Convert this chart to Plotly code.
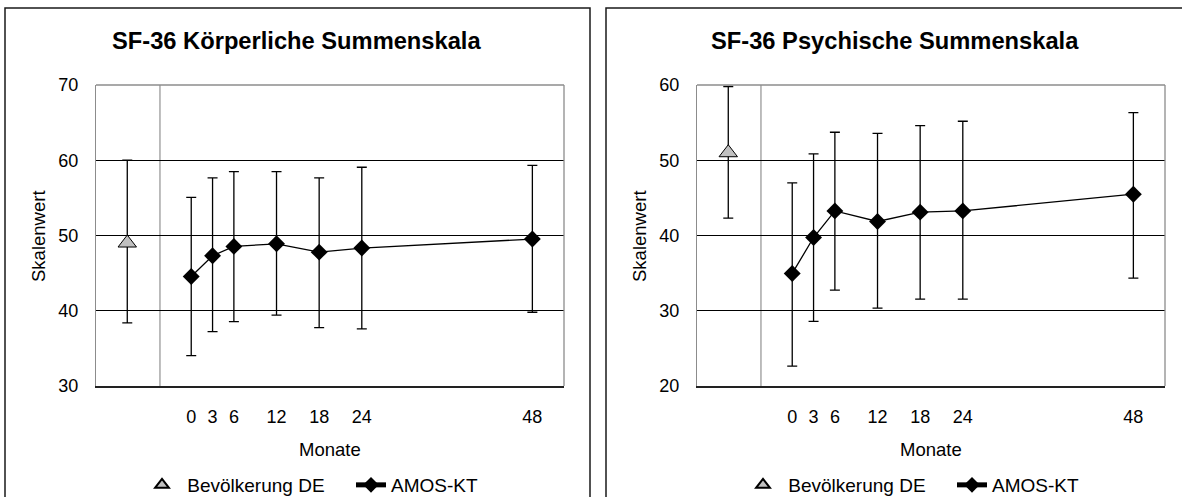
import plotly.graph_objects as go

# ---------------- data ----------------
months = [0, 3, 6, 12, 18, 24, 48]
tick_labels = ["0", "3", "6", "12", "18", "24", "48"]
pop_x = [-9]            # position of the population reference point (left of divider)
divider_x = -4.4        # grey divider between reference and study time points

# SF-36 Körperliche Summenskala
phys_pop_mean = [49.0]
phys_pop_upper = [60.0]
phys_pop_lower = [38.4]
phys_amos_mean = [44.55, 47.31, 48.55, 48.90, 47.79, 48.33, 49.53]
phys_amos_upper = [55.07, 57.65, 58.49, 58.49, 57.65, 59.07, 59.33]
phys_amos_lower = [34.03, 37.23, 38.56, 39.41, 37.76, 37.59, 39.80]

# SF-36 Psychische Summenskala
psy_pop_mean = [51.0]
psy_pop_upper = [59.8]
psy_pop_lower = [42.3]
psy_amos_mean = [34.96, 39.73, 43.27, 41.86, 43.10, 43.27, 45.49]
psy_amos_upper = [46.99, 50.84, 53.72, 53.58, 54.60, 55.18, 56.33]
psy_amos_lower = [22.65, 28.58, 32.74, 30.35, 31.55, 31.55, 34.34]

titles = ["SF-36 Körperliche Summenskala", "SF-36 Psychische Summenskala"]
y_ranges = [[30, 70], [20, 60]]
pop_name = " Bevölkerung DE"
amos_name = "AMOS-KT"
x_title = "Monate"
y_title = "Skalenwert"

# ---------------- layout helpers ----------------
W, H = 1182, 497
FONT = "Liberation Sans, Arial, sans-serif"


def px(x):
    return x / W


def py(y):
    return 1 - y / H


def err(mean, upper, lower):
    plus = [u - m for u, m in zip(upper, mean)]
    minus = [m - l for m, l in zip(mean, lower)]
    return plus, minus


fig = go.Figure()

panels = [
    (phys_pop_mean, phys_pop_upper, phys_pop_lower,
     phys_amos_mean, phys_amos_upper, phys_amos_lower),
    (psy_pop_mean, psy_pop_upper, psy_pop_lower,
     psy_amos_mean, psy_amos_upper, psy_amos_lower),
]

offset = 601  # horizontal pixel offset of the second panel
for i, (pm, pu, pl, am, au, al) in enumerate(panels):
    xa = "x" if i == 0 else "x2"
    ya = "y" if i == 0 else "y2"
    lg = "legend" if i == 0 else "legend2"
    pplus, pminus = err(pm, pu, pl)
    aplus, aminus = err(am, au, al)
    fig.add_trace(go.Scatter(
        x=pop_x, y=pm, mode="markers", name=pop_name,
        xaxis=xa, yaxis=ya, legend=lg,
        marker=dict(symbol="triangle-up", size=16, color="#c0c0c0",
                    line=dict(color="#000000", width=1)),
        error_y=dict(type="data", array=pplus, arrayminus=pminus,
                     color="#000000", thickness=1.3, width=5),
    ))
    fig.add_trace(go.Scatter(
        x=months, y=am, mode="lines+markers", name=amos_name,
        xaxis=xa, yaxis=ya, legend=lg,
        line=dict(color="#000000", width=1.3),
        marker=dict(symbol="diamond", size=13, color="#000000"),
        error_y=dict(type="data", array=aplus, arrayminus=aminus,
                     color="#000000", thickness=1.3, width=5),
    ))

xdomains = [[px(96), px(564)], [px(96 + offset), px(564 + offset)]]
ydomain = [py(386), py(85)]

layout = dict(
    width=W, height=H,
    margin=dict(l=0, r=0, t=0, b=0, pad=0, autoexpand=False),
    paper_bgcolor="white", plot_bgcolor="white",
    font=dict(family=FONT, size=18, color="#000000"),
    showlegend=True,
)

for i in range(2):
    sx = "" if i == 0 else "2"
    layout["xaxis" + sx] = dict(
        domain=xdomains[i], range=[-13.4, 52.45],
        tickvals=months, ticktext=tick_labels,
        showgrid=False, zeroline=False,
        showline=True, linecolor="#222222", linewidth=2,
        ticks="", ticklabelstandoff=13,
        tickfont=dict(size=18), anchor="y" + sx,
    )
    layout["yaxis" + sx] = dict(
        domain=ydomain, range=y_ranges[i], dtick=10, tick0=0,
        showgrid=True, gridcolor="#000000", gridwidth=1,
        zeroline=False, showline=True, linecolor="#8c8c8c", linewidth=1,
        ticks="", ticklabelstandoff=13,
        tickfont=dict(size=18), anchor="x" + sx,
    )
    layout["legend" if i == 0 else "legend2"] = dict(
        orientation="h", x=px(142 + i * offset), xanchor="left",
        y=py(485), yanchor="middle",
        font=dict(size=19), bgcolor="rgba(0,0,0,0)",
        entrywidth=164, entrywidthmode="pixels", itemsizing="constant",
        itemclick=False, itemdoubleclick=False,
    )

fig.update_layout(**layout)

shapes = []
annotations = []
for i in range(2):
    sx = "" if i == 0 else "2"
    xr, yr = "x" + sx, "y" + sx
    # outer chart-area box
    x0 = 5 if i == 0 else 606
    x1 = 590 if i == 0 else 1184
    shapes.append(dict(type="rect", xref="paper", yref="paper",
                       x0=px(x0), x1=px(x1), y0=-0.05, y1=py(8),
                       line=dict(color="#1a1a1a", width=1.5), layer="below"))
    # grey divider line
    shapes.append(dict(type="line", xref=xr, yref=yr + " domain",
                       x0=divider_x, x1=divider_x, y0=0, y1=1,
                       line=dict(color="#9a9a9a", width=1.3), layer="below"))
    # plot area top and right border (grey)
    shapes.append(dict(type="line", xref=xr + " domain", yref=yr + " domain",
                       x0=0, x1=1, y0=1, y1=1,
                       line=dict(color="#8c8c8c", width=1.5), layer="above"))
    shapes.append(dict(type="line", xref=xr + " domain", yref=yr + " domain",
                       x0=1, x1=1, y0=0, y1=1,
                       line=dict(color="#8c8c8c", width=1.3), layer="above"))
    # titles
    annotations.append(dict(text="<b>" + titles[i] + "</b>", xref="paper", yref="paper",
                            x=px(296 + i * 599), y=py(41), xanchor="center", yanchor="middle",
                            showarrow=False, font=dict(size=23.7, family=FONT)))
    annotations.append(dict(text=y_title, xref="paper", yref="paper",
                            x=px(38 + i * offset), y=py(236), xanchor="center", yanchor="middle",
                            textangle=-90, showarrow=False, font=dict(size=18.5, family=FONT)))
    annotations.append(dict(text=x_title, xref=xr + " domain", yref="paper",
                            x=0.5, y=py(449), xanchor="center", yanchor="middle",
                            showarrow=False, font=dict(size=18.5, family=FONT)))

fig.update_layout(shapes=shapes, annotations=annotations)

fig.write_html("out.html", config={"displayModeBar": False},
               post_script="document.body.style.margin='0px';document.body.style.overflow='hidden';")
